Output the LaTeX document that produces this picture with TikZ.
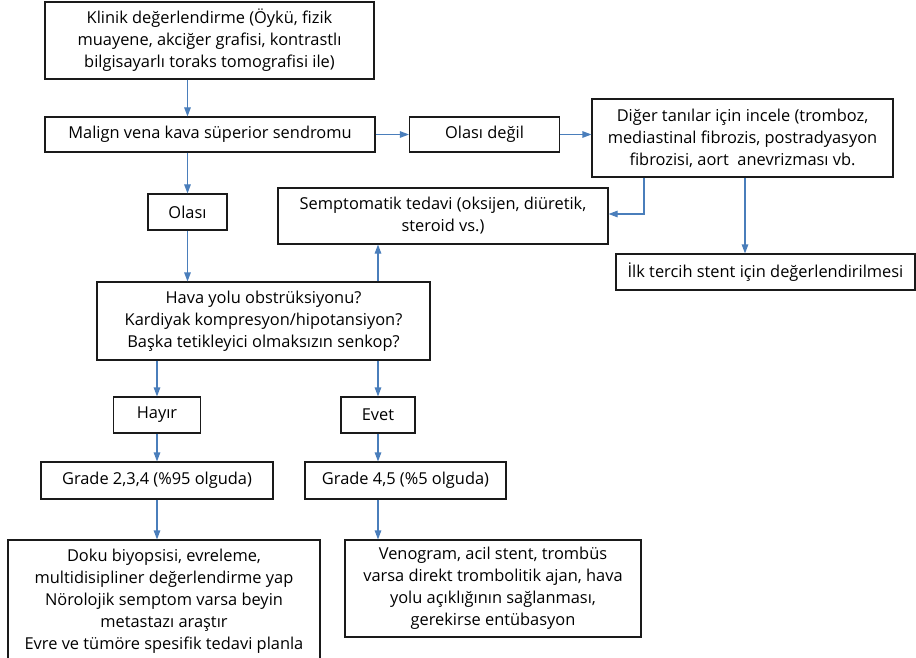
\documentclass[tikz,border=0pt]{standalone}
\usepackage{fontspec}
\setmainfont{Open Sans}
\usetikzlibrary{arrows.meta}
\definecolor{flowblue}{HTML}{4A7EBB}
\definecolor{boxline}{HTML}{1A1A1A}
\tikzset{
  box/.style={draw=boxline, line width=1.1pt, align=center, inner sep=0pt,
    font=\fontsize{16.4}{22}\selectfont, text=black},
  arr/.style={draw=flowblue, line width=1.1pt,
    -{Triangle[length=9pt,width=6.5pt]}},
}
\begin{document}
\begin{tikzpicture}[x=1pt,y=-1pt]
\useasboundingbox (0,0) rectangle (916,658);

% first column: assessment and diagnosis
\node[box, minimum width=329, minimum height=77] (klinik) at (209.5,40.5)
  {Klinik değerlendirme (Öykü, fizik\\muayene, akciğer grafisi, kontrastlı\\bilgisayarlı toraks tomografisi ile)};
\node[box, minimum width=330, minimum height=35] (malign) at (210,134.5)
  {Malign vena kava süperior sendromu};
\node[box, minimum width=79, minimum height=36] (olasi) at (187.5,212) {Olası};

% right branch: other diagnoses
\node[box, minimum width=150, minimum height=35] (degil) at (484.5,134.5) {Olası değil};
\node[box, minimum width=301, minimum height=78] (diger) at (742.5,138)
  {Diğer tanılar için incele (tromboz,\\mediastinal fibrozis, postradyasyon\\fibrozisi, aort\ \ anevrizması vb.};
\node[box, minimum width=330, minimum height=56] (sempt) at (443,216)
  {Semptomatik tedavi (oksijen, diüretik,\\steroid vs.)};
\node[box, minimum width=299, minimum height=36] (ilk) at (765.5,272)
  {İlk tercih stent için değerlendirilmesi};

% severity question
\node[box, minimum width=333, minimum height=78] (hava) at (263.5,321)
  {Hava yolu obstrüksiyonu?\\Kardiyak kompresyon/hipotansiyon?\\Başka tetikleyici olmaksızın senkop?};
\node[box, minimum width=87, minimum height=36] (hayir) at (157,415) {Hayır};
\node[box, minimum width=74, minimum height=36] (evet) at (378,415) {Evet};
\node[box, minimum width=232, minimum height=37] (g234) at (157,480.5) {Grade 2,3,4 (\%95 olguda)};
\node[box, minimum width=201, minimum height=37] (g45) at (405.5,480.5) {Grade 4,5 (\%5 olguda)};

% management
\node[box, minimum width=312, minimum height=122] (doku) at (164,601)
  {Doku biyopsisi, evreleme,\\multidisipliner değerlendirme yap\\Nörolojik semptom varsa beyin\\metastazı araştır\\Evre ve tümöre spesifik tedavi planla};
\node[box, minimum width=296, minimum height=97] (veno) at (493,588.5)
  {Venogram, acil stent, trombüs\\varsa direkt trombolitik ajan, hava\\yolu açıklığının sağlanması,\\gerekirse entübasyon};

% connectors
\draw[arr] (klinik.south -| olasi) -- (malign.north -| olasi);
\draw[arr] (malign.south -| olasi) -- (olasi.north);
\draw[arr] (olasi.south) -- (hava.north -| olasi);
\draw[arr] (malign.east) -- (degil.west);
\draw[arr] (degil.east) -- (degil.east -| diger.west);
\draw[arr] ([xshift=-98.5pt]diger.south) |- ([yshift=2pt]sempt.east);
\draw[arr] ([xshift=2.5pt]diger.south) -- ([xshift=2.5pt]diger.south |- ilk.north);
\draw[arr] (hava.north -| evet) -- (sempt.south -| evet);
\draw[arr] (hava.south -| g234) -- (hayir.north -| g234);
\draw[arr] (hayir.south -| g234) -- (g234.north);
\draw[arr] (g234.south) -- (doku.north -| g234);
\draw[arr] (hava.south -| evet) -- (evet.north);
\draw[arr] (evet.south) -- (g45.north -| evet);
\draw[arr] (g45.south -| evet) -- (veno.north -| evet);
\end{tikzpicture}
\end{document}
